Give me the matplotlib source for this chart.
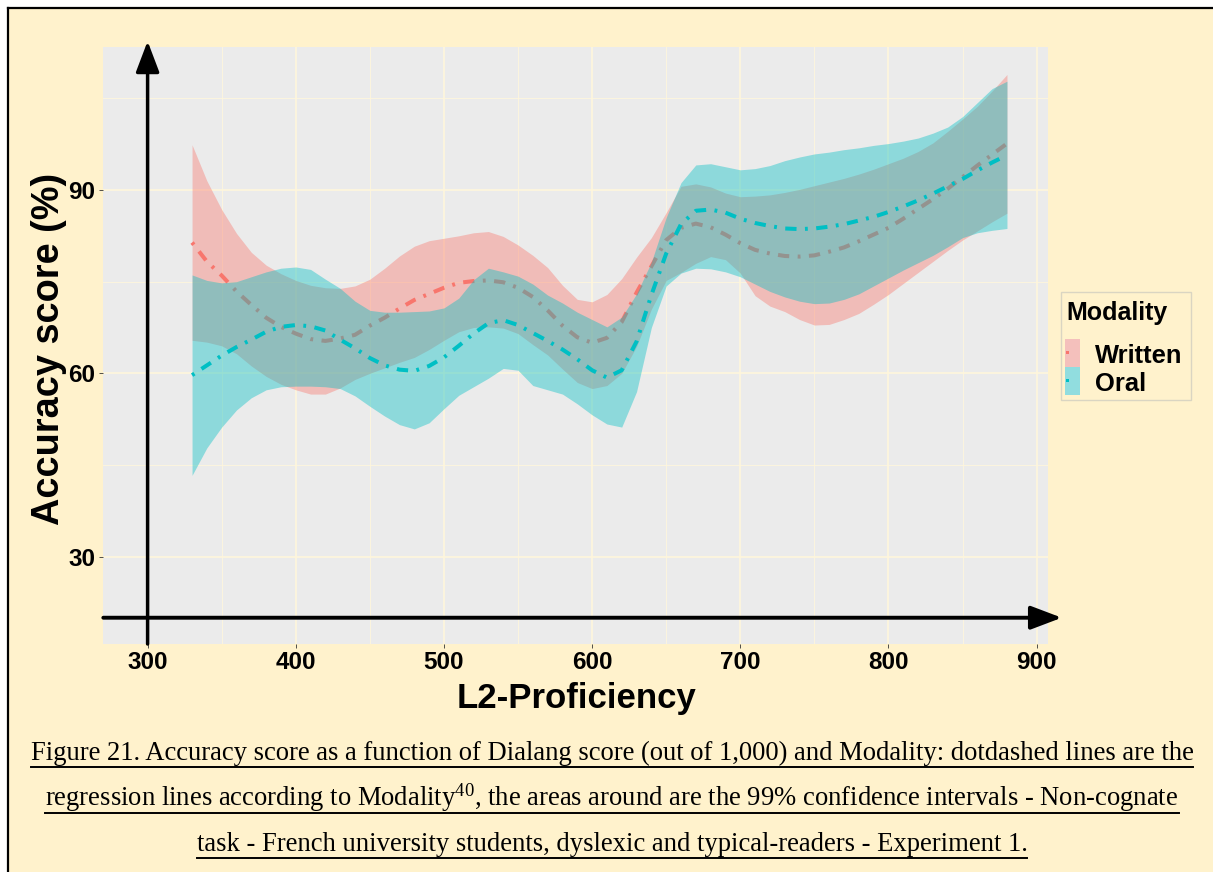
import matplotlib
matplotlib.use('Agg')
import matplotlib.pyplot as plt
from matplotlib.patches import Rectangle
from matplotlib.lines import Line2D

# ---------------- data ----------------
proficiency = [330, 340, 350, 360, 370, 380, 390, 400, 410, 420, 430, 440, 450, 460,
               470, 480, 490, 500, 510, 520, 530, 540, 550, 560, 570, 580, 590, 600,
               610, 620, 630, 640, 650, 660, 670, 680, 690, 700, 710, 720, 730, 740,
               750, 760, 770, 780, 790, 800, 810, 820, 830, 840, 850, 860, 870, 880]

written_fit = [81.4, 78.3, 76.0, 73.4, 71.2, 69.1, 67.6, 66.5, 65.6, 65.3, 65.7, 66.3, 67.8, 69.1,
               70.6, 72.0, 73.0, 74.0, 74.8, 75.1, 75.2, 74.9, 74.0, 72.5, 70.3, 67.8, 65.9, 65.0,
               65.8, 68.4, 73.2, 77.5, 81.8, 83.8, 84.5, 83.9, 82.7, 81.3, 80.2, 79.6, 79.2, 79.1,
               79.3, 79.9, 80.6, 81.6, 82.7, 83.8, 85.3, 86.9, 88.5, 90.2, 92.1, 94.0, 95.8, 97.6]
written_upper = [97.4, 91.5, 86.8, 82.9, 79.8, 77.7, 76.3, 75.2, 74.4, 74.0, 73.9, 74.3, 75.4, 77.2,
                 79.2, 80.8, 81.7, 82.1, 82.5, 83.0, 83.2, 82.4, 81.0, 79.3, 77.3, 74.4, 72.1, 71.7,
                 72.9, 75.5, 79.0, 82.2, 86.3, 90.6, 91.0, 90.5, 89.5, 88.9, 89.0, 89.2, 89.6, 90.1,
                 90.7, 91.3, 91.9, 92.6, 93.4, 94.3, 95.2, 96.3, 97.7, 99.6, 101.6, 103.7, 106.2, 108.9]
written_lower = [65.4, 65.1, 64.5, 63.2, 61.2, 59.5, 58.2, 57.3, 56.6, 56.6, 57.6, 59.0, 60.0, 60.9,
                 61.8, 62.6, 63.9, 65.4, 66.8, 67.5, 67.6, 67.4, 66.5, 64.7, 63.0, 60.7, 58.5, 57.5,
                 58.0, 60.0, 64.4, 70.5, 75.2, 76.5, 78.0, 79.1, 78.6, 76.4, 72.7, 71.0, 70.1, 68.8,
                 67.9, 68.0, 68.8, 69.8, 71.3, 72.9, 74.7, 76.5, 78.3, 80.1, 81.8, 83.3, 84.8, 86.2]

oral_fit = [59.7, 61.3, 62.9, 64.3, 65.5, 66.8, 67.6, 67.9, 67.7, 67.0, 65.5, 64.1, 62.5, 61.3,
            60.6, 60.4, 61.2, 62.6, 64.5, 66.5, 68.2, 68.7, 67.9, 66.6, 65.3, 63.9, 62.3, 60.5,
            59.3, 60.5, 65.2, 72.8, 79.6, 84.4, 86.6, 86.8, 86.3, 85.3, 84.6, 84.1, 83.7, 83.6,
            83.7, 84.0, 84.4, 85.0, 85.6, 86.4, 87.3, 88.3, 89.4, 90.6, 91.8, 93.2, 94.5, 95.7]
oral_upper = [76.1, 75.2, 74.8, 75.0, 75.8, 76.6, 77.2, 77.4, 77.0, 75.4, 73.9, 71.8, 70.3, 70.0,
              70.0, 70.1, 70.2, 70.7, 72.3, 75.3, 77.2, 76.6, 75.9, 74.6, 72.8, 71.5, 70.0, 68.8,
              67.6, 69.2, 73.0, 78.2, 85.5, 91.2, 94.1, 94.3, 93.8, 93.3, 93.5, 94.0, 94.8, 95.4,
              95.9, 96.2, 96.6, 96.9, 97.3, 97.6, 98.0, 98.5, 99.3, 100.3, 102.0, 104.3, 106.6, 107.8]
oral_lower = [43.3, 47.8, 51.2, 54.0, 56.0, 57.3, 57.8, 57.9, 57.9, 57.8, 57.5, 56.3, 54.6, 53.0,
              51.6, 50.9, 51.9, 54.2, 56.4, 57.8, 59.2, 60.8, 60.5, 58.0, 57.3, 56.6, 55.0, 53.2,
              51.7, 51.2, 57.0, 67.5, 74.3, 76.4, 77.2, 77.1, 76.6, 75.8, 74.6, 73.4, 72.5, 71.8,
              71.4, 71.5, 72.1, 73.0, 74.3, 75.6, 76.9, 78.1, 79.3, 80.7, 82.2, 83.0, 83.4, 83.7]

modalities = ['Written', 'Oral']
x_ticks = [300, 400, 500, 600, 700, 800, 900]
x_minor = [350, 450, 550, 650, 750, 850]
y_ticks = [30, 60, 90]
y_minor = [45, 75, 105]

x_title = 'L2-Proficiency'
y_title = 'Accuracy score (%)'
legend_title = 'Modality'
caption_lines = [
    'Figure 21. Accuracy score as a function of Dialang score (out of 1,000) and Modality: dotdashed lines are the',
    r'regression lines according to Modality$^{\mathrm{40}}$, the areas around are the 99% confidence intervals - Non-cognate',
    'task - French university students, dyslexic and typical-readers - Experiment 1.',
]

# ---------------- styling ----------------
W, H = 1213, 872
RED, CYAN = '#F8766D', '#00BFC4'
CREAM = '#FFF2CC'
GRID = '#FFF6DC'
SANS = ['Liberation Sans', 'DejaVu Sans']
SERIF = ['Liberation Serif', 'DejaVu Serif']

plt.rcParams['font.family'] = SANS
plt.rcParams['mathtext.fontset'] = 'custom'
plt.rcParams['mathtext.rm'] = 'Liberation Serif'
plt.rcParams['mathtext.it'] = 'Liberation Serif:italic'
plt.rcParams['mathtext.bf'] = 'Liberation Serif:bold'


def fx(x):
    return x / W


def fy(y):
    return 1 - y / H


fig = plt.figure(figsize=(W / 100, H / 100), dpi=100, facecolor='white')

# page background with left/top border
fig.patches.append(Rectangle((fx(8), 0), 1 - fx(8), fy(8.5), transform=fig.transFigure,
                             facecolor=CREAM, edgecolor='none', zorder=-10))
fig.lines.append(Line2D([fx(7.8), fx(7.8)], [0, fy(8.5)], transform=fig.transFigure,
                        color='black', lw=1.6, zorder=-9))
fig.lines.append(Line2D([fx(7.8), 1], [fy(8.5), fy(8.5)], transform=fig.transFigure,
                        color='black', lw=1.6, zorder=-9))

# panel
pl, pr, pt, pb = 103.3, 1048.0, 46.7, 644.0
ax = fig.add_axes([fx(pl), fy(pb), fx(pr - pl), (pb - pt) / H])
ax.set_zorder(1)
ax.set_facecolor('#EBEBEB')
x0, x1 = 270.1, 907.7
y0, y1 = 15.7, 113.45
ax.set_xlim(x0, x1)
ax.set_ylim(y0, y1)
for s in ax.spines.values():
    s.set_visible(False)
ax.set_axisbelow(True)

ax.set_xticks(x_ticks)
ax.set_xticks(x_minor, minor=True)
ax.set_yticks(y_ticks)
ax.set_yticks(y_minor, minor=True)
ax.grid(which='major', color=GRID, lw=1.2)
ax.grid(which='minor', color=GRID, lw=0.6)
ax.tick_params(which='major', length=2.75, width=0.6, color='#333333', labelsize=17.5,
               labelcolor='black')
ax.tick_params(axis='x', which='major', pad=2.6)
ax.tick_params(axis='y', which='major', pad=3.0)
ax.tick_params(which='minor', length=0)
for lab in ax.get_xticklabels() + ax.get_yticklabels():
    lab.set_fontweight('bold')
    lab.set_family(SANS)

# ribbons + fitted lines (Written first, Oral on top as in ggplot)
dash = (0.7, 2.1, 2.8, 2.1)
ax.fill_between(proficiency, written_lower, written_upper, color=RED, alpha=0.4, lw=0, zorder=2)
l1, = ax.plot(proficiency, written_fit, color=RED, lw=2.9, zorder=3)
l1.set_dashes(dash)
l1.set_dash_capstyle('butt')
ax.fill_between(proficiency, oral_lower, oral_upper, color=CYAN, alpha=0.4, lw=0, zorder=4)
l2, = ax.plot(proficiency, oral_fit, color=CYAN, lw=2.9, zorder=5)
l2.set_dashes(dash)
l2.set_dash_capstyle('butt')

# axis arrows
arrow_style = '-|>,head_length=0.95,head_width=0.36'
ax.annotate('', xy=(300, y1 + 0.9), xytext=(300, y0), annotation_clip=False,
            arrowprops=dict(arrowstyle=arrow_style, mutation_scale=20, lw=2.5,
                            color='black', shrinkA=0, shrinkB=0), zorder=7)
ax.annotate('', xy=(917, 20), xytext=(x0, 20), annotation_clip=False,
            arrowprops=dict(arrowstyle=arrow_style, mutation_scale=20, lw=2.8,
                            color='black', shrinkA=0, shrinkB=0), zorder=7)

# axis titles
fig.text(fx(576.5), fy(708.3), x_title, ha='center', va='baseline', fontsize=25,
         fontweight='bold', family=SANS)
fig.text(fx(49), fy(348.5), y_title, ha='center', va='center', rotation=90, fontsize=27.3,
         fontweight='bold', family=SANS)

# legend
fig.patches.append(Rectangle((fx(1060.7), fy(400)), fx(130), 108.3 / H, transform=fig.transFigure,
                             facecolor=CREAM, edgecolor='#DAD5C2', lw=1.0, zorder=2))
fig.text(fx(1066.7), fy(320), legend_title, ha='left', va='baseline', fontsize=18,
         fontweight='bold', family=SANS, zorder=3)
key_colors = [RED, CYAN]
key_tops = [339.3, 367.3]
label_baselines = [363.3, 391.0]
for name, col, top, base in zip(modalities, key_colors, key_tops, label_baselines):
    fig.patches.append(Rectangle((fx(1065), fy(top + 28)), fx(15), 28 / H,
                                 transform=fig.transFigure, facecolor='#F2F2F2',
                                 edgecolor='none', zorder=3))
    fig.patches.append(Rectangle((fx(1065), fy(top + 28)), fx(15), 28 / H,
                                 transform=fig.transFigure, facecolor=col, alpha=0.4,
                                 edgecolor='none', zorder=3.5))
    fig.patches.append(Rectangle((fx(1065.8), fy(top + 15)), fx(3), 3 / H,
                                 transform=fig.transFigure, facecolor=col,
                                 edgecolor='none', zorder=4))
    fig.text(fx(1095), fy(base), name, ha='left', va='baseline', fontsize=18.4,
             fontweight='bold', family=SANS, zorder=4)

# caption with underline
cap_baselines = [760.3, 805.8, 851.3]
cap_texts = []
for s, b in zip(caption_lines, cap_baselines):
    t = fig.text(fx(612), fy(b), s, ha='center', va='baseline', fontsize=19.2,
                 family=SERIF, color='black')
    cap_texts.append((t, b))

renderer = fig.canvas.get_renderer()
for t, b in cap_texts:
    bb = t.get_window_extent(renderer)
    yline = fy(b + 6.8)
    fig.lines.append(Line2D([bb.x0 / W, bb.x1 / W], [yline, yline], transform=fig.transFigure,
                            color='black', lw=1.4))

fig.savefig('out.png', dpi=100, facecolor='white')
